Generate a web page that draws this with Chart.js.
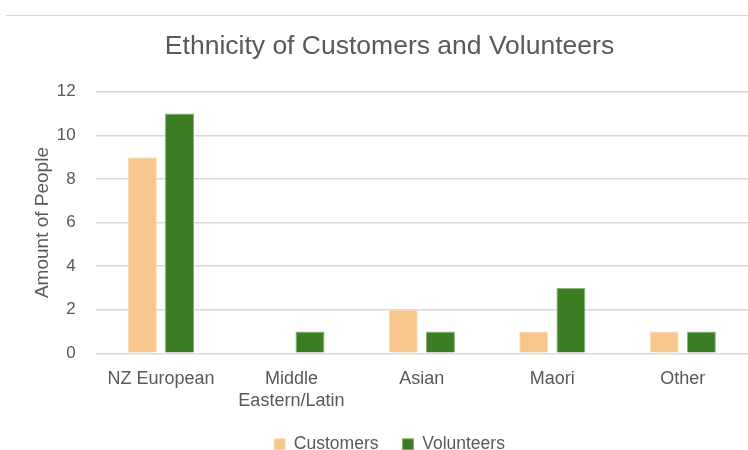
<!DOCTYPE html>
<html><head><meta charset="utf-8">
<script src="https://cdn.jsdelivr.net/npm/chart.js@4/dist/chart.umd.min.js"></script>
<style>
html,body{margin:0;padding:0;background:#fff;}
#wrap{position:relative;width:748px;height:450px;}
#line{position:absolute;left:6px;right:0;top:15px;height:0;border-top:1px solid #d9d9d9;}
canvas{position:absolute;left:0;top:0;}
</style></head>
<body><div id="wrap"><div id="line"></div><canvas id="c" width="748" height="450"></canvas></div>
<script>
const categories = [["NZ European"], ["Middle", "Eastern/Latin"], ["Asian"], ["Maori"], ["Other"]];
const customers = [9, 0, 2, 1, 1];
const volunteers = [11, 1, 1, 3, 1];
const yTicks = [0, 2, 4, 6, 8, 10, 12];

const FONT = "'Liberation Sans', sans-serif";
const GREY = '#595959';
const legendShift = {
  id: 'legendShift',
  afterLayout(chart) {
    const d = -7;
    chart.legend.top += d; chart.legend.bottom += d;
  }
};
new Chart(document.getElementById('c'), {
  type: 'bar',
  data: {
    labels: categories,
    datasets: [
      {label: 'Customers', data: customers, backgroundColor: '#F6C68B', borderColor: '#F9DDB8', borderWidth: 1,
       categoryPercentage: 0.57, barPercentage: 0.78},
      {label: 'Volunteers', data: volunteers, backgroundColor: '#3B7D23', borderColor: '#8DB07E', borderWidth: 1,
       categoryPercentage: 0.57, barPercentage: 0.78}
    ]
  },
  plugins: [legendShift],
  options: {
    responsive: false, animation: false,
    layout: {padding: {left: 31, right: 0, top: 31, bottom: -20}},
    plugins: {
      title: {display: true, text: 'Ethnicity of Customers and Volunteers', color: GREY,
        font: {family: FONT, size: 26.5, weight: 'normal'}, padding: {top: 0, bottom: 29}},
      legend: {position: 'bottom', labels: {color: GREY, font: {family: FONT, size: 17.5},
        boxWidth: 11, boxHeight: 11, padding: 24}},
      tooltip: {enabled: false}
    },
    scales: {
      x: {grid: {display: false}, border: {display: false},
        ticks: {color: GREY, font: {family: FONT, size: 18, lineHeight: 1.2}, padding: 7, maxRotation: 0}},
      y: {min: 0, max: 12, afterBuildTicks: a => { a.ticks = yTicks.map(v => ({value: v})); },
        grid: {color: '#d9d9d9', lineWidth: 1.5, drawTicks: false}, border: {display: false},
        ticks: {color: GREY, font: {family: FONT, size: 17}, padding: 20},
        title: {display: true, text: 'Amount of People', color: GREY, font: {family: FONT, size: 19}, padding: {top: 0, bottom: -17}}}
    }
  }
});
</script></body></html>
